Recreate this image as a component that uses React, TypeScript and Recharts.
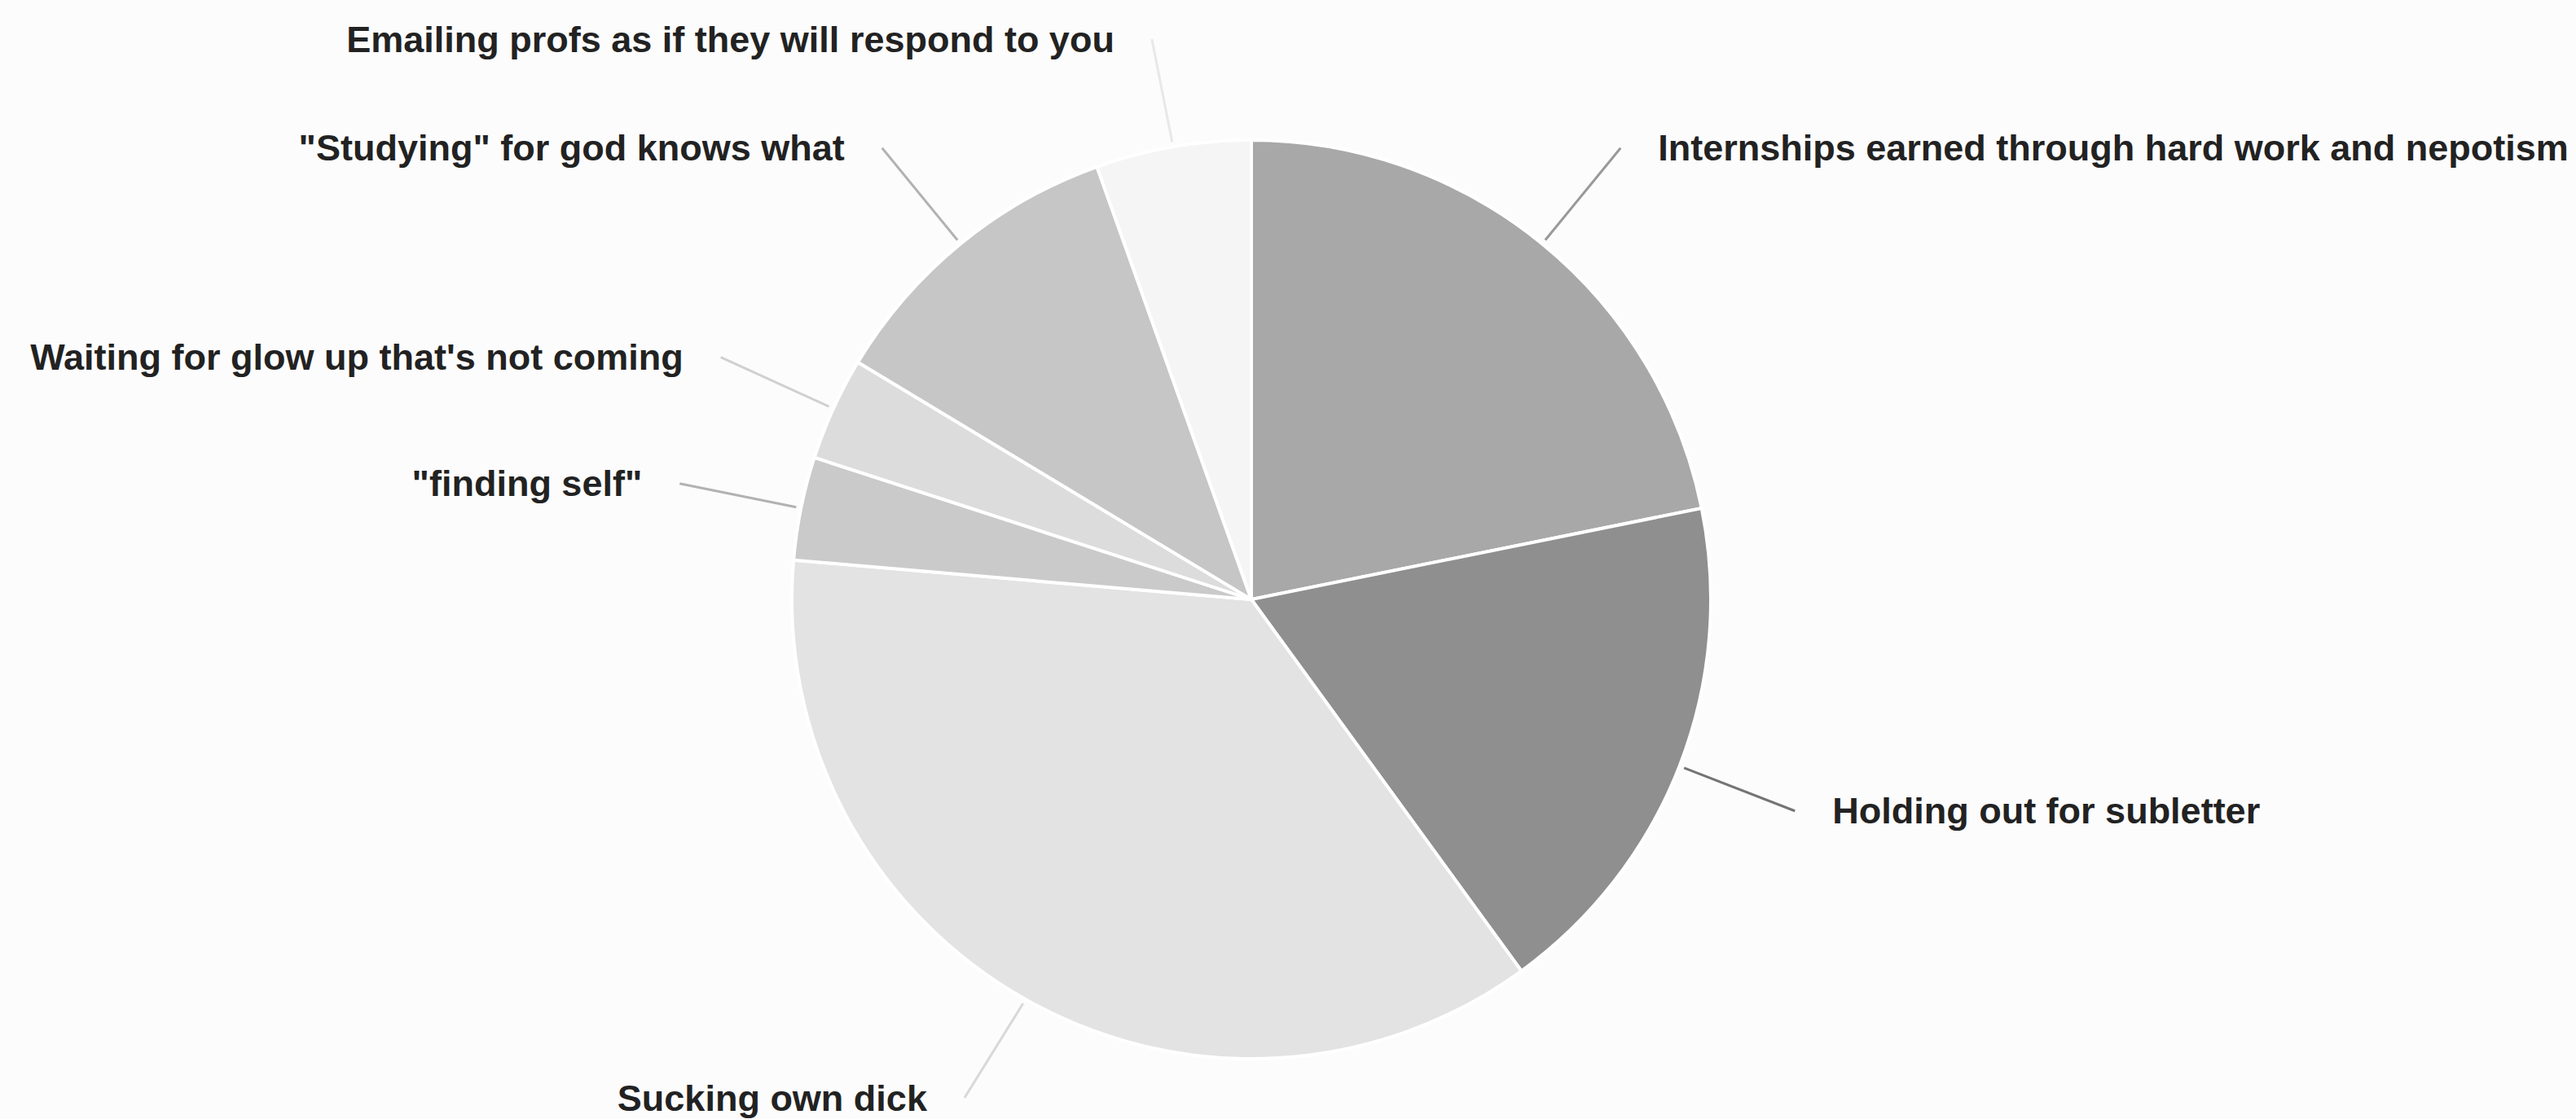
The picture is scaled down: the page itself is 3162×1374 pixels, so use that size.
import { Cell, Pie, PieChart } from "recharts";

const categories = [
  "Internships earned through hard work and nepotism",
  "Holding out for subletter",
  "Sucking own dick",
  "\"finding self\"",
  "Waiting for glow up that's not coming",
  "\"Studying\" for god knows what",
  "Emailing profs as if they will respond to you",
];

const responses = [12, 10, 20, 2, 2, 6, 3];

const sliceColors = ["#a8a8a8", "#8f8f8f", "#e3e3e3", "#cacaca", "#dcdcdc", "#c6c6c6", "#f5f5f5"];
const lineColors = ["#999999", "#747474", "#d8d8d8", "#b2b2b2", "#d0d0d0", "#b2b2b2", "#e8e8e8"];

const data = categories.map((name, i) => ({ name, value: responses[i] }));

const W = 3162;
const H = 1374;
const RAD = Math.PI / 180;
const LINE_START = 6;
const LINE_LEN = 152;
const TEXT_GAP = 46;
// labels are kept inside the canvas, like the sheets export does
const LABEL_TOP = 48;
const LABEL_BOTTOM = H - 26;

function polar(cx: number, cy: number, r: number, angle: number) {
  return { x: cx + r * Math.cos(-angle * RAD), y: cy + r * Math.sin(-angle * RAD) };
}

function labelEnd(cx: number, cy: number, outerRadius: number, midAngle: number) {
  const p = polar(cx, cy, outerRadius + LINE_LEN, midAngle);
  return { x: p.x, y: Math.min(LABEL_BOTTOM, Math.max(LABEL_TOP, p.y)) };
}

function renderLabel(props: any) {
  const { cx, cy, midAngle, outerRadius, index } = props;
  const end = labelEnd(cx, cy, outerRadius, midAngle);
  const right = end.x >= cx;
  return (
    <text
      x={right ? end.x + TEXT_GAP : end.x - TEXT_GAP}
      y={end.y}
      textAnchor={right ? "start" : "end"}
      dominantBaseline="central"
      fill="#222222"
      fontFamily="'Liberation Sans', Arial, sans-serif"
      fontWeight="bold"
      fontSize={45}
    >
      {categories[index]}
    </text>
  );
}

function renderLabelLine(props: any) {
  const { cx, cy, midAngle, outerRadius, index } = props;
  const start = polar(cx, cy, outerRadius + LINE_START, midAngle);
  const end = labelEnd(cx, cy, outerRadius, midAngle);
  return (
    <path
      d={`M${start.x},${start.y}L${end.x},${end.y}`}
      stroke={lineColors[index]}
      strokeWidth={3}
      fill="none"
    />
  );
}

export default function App() {
  return (
    <div
      style={{
        position: "absolute",
        left: 0,
        top: 0,
        width: W,
        height: H,
        background: "#fcfcfc",
      }}
    >
      <PieChart width={W} height={H}>
        <Pie
          data={data}
          dataKey="value"
          nameKey="name"
          cx={1531}
          cy={731}
          outerRadius={564}
          startAngle={90}
          endAngle={-270}
          stroke="#ffffff"
          strokeWidth={4}
          label={renderLabel}
          labelLine={renderLabelLine}
          isAnimationActive={false}
        >
          {data.map((d, i) => (
            <Cell key={d.name} fill={sliceColors[i]} />
          ))}
        </Pie>
      </PieChart>
    </div>
  );
}
